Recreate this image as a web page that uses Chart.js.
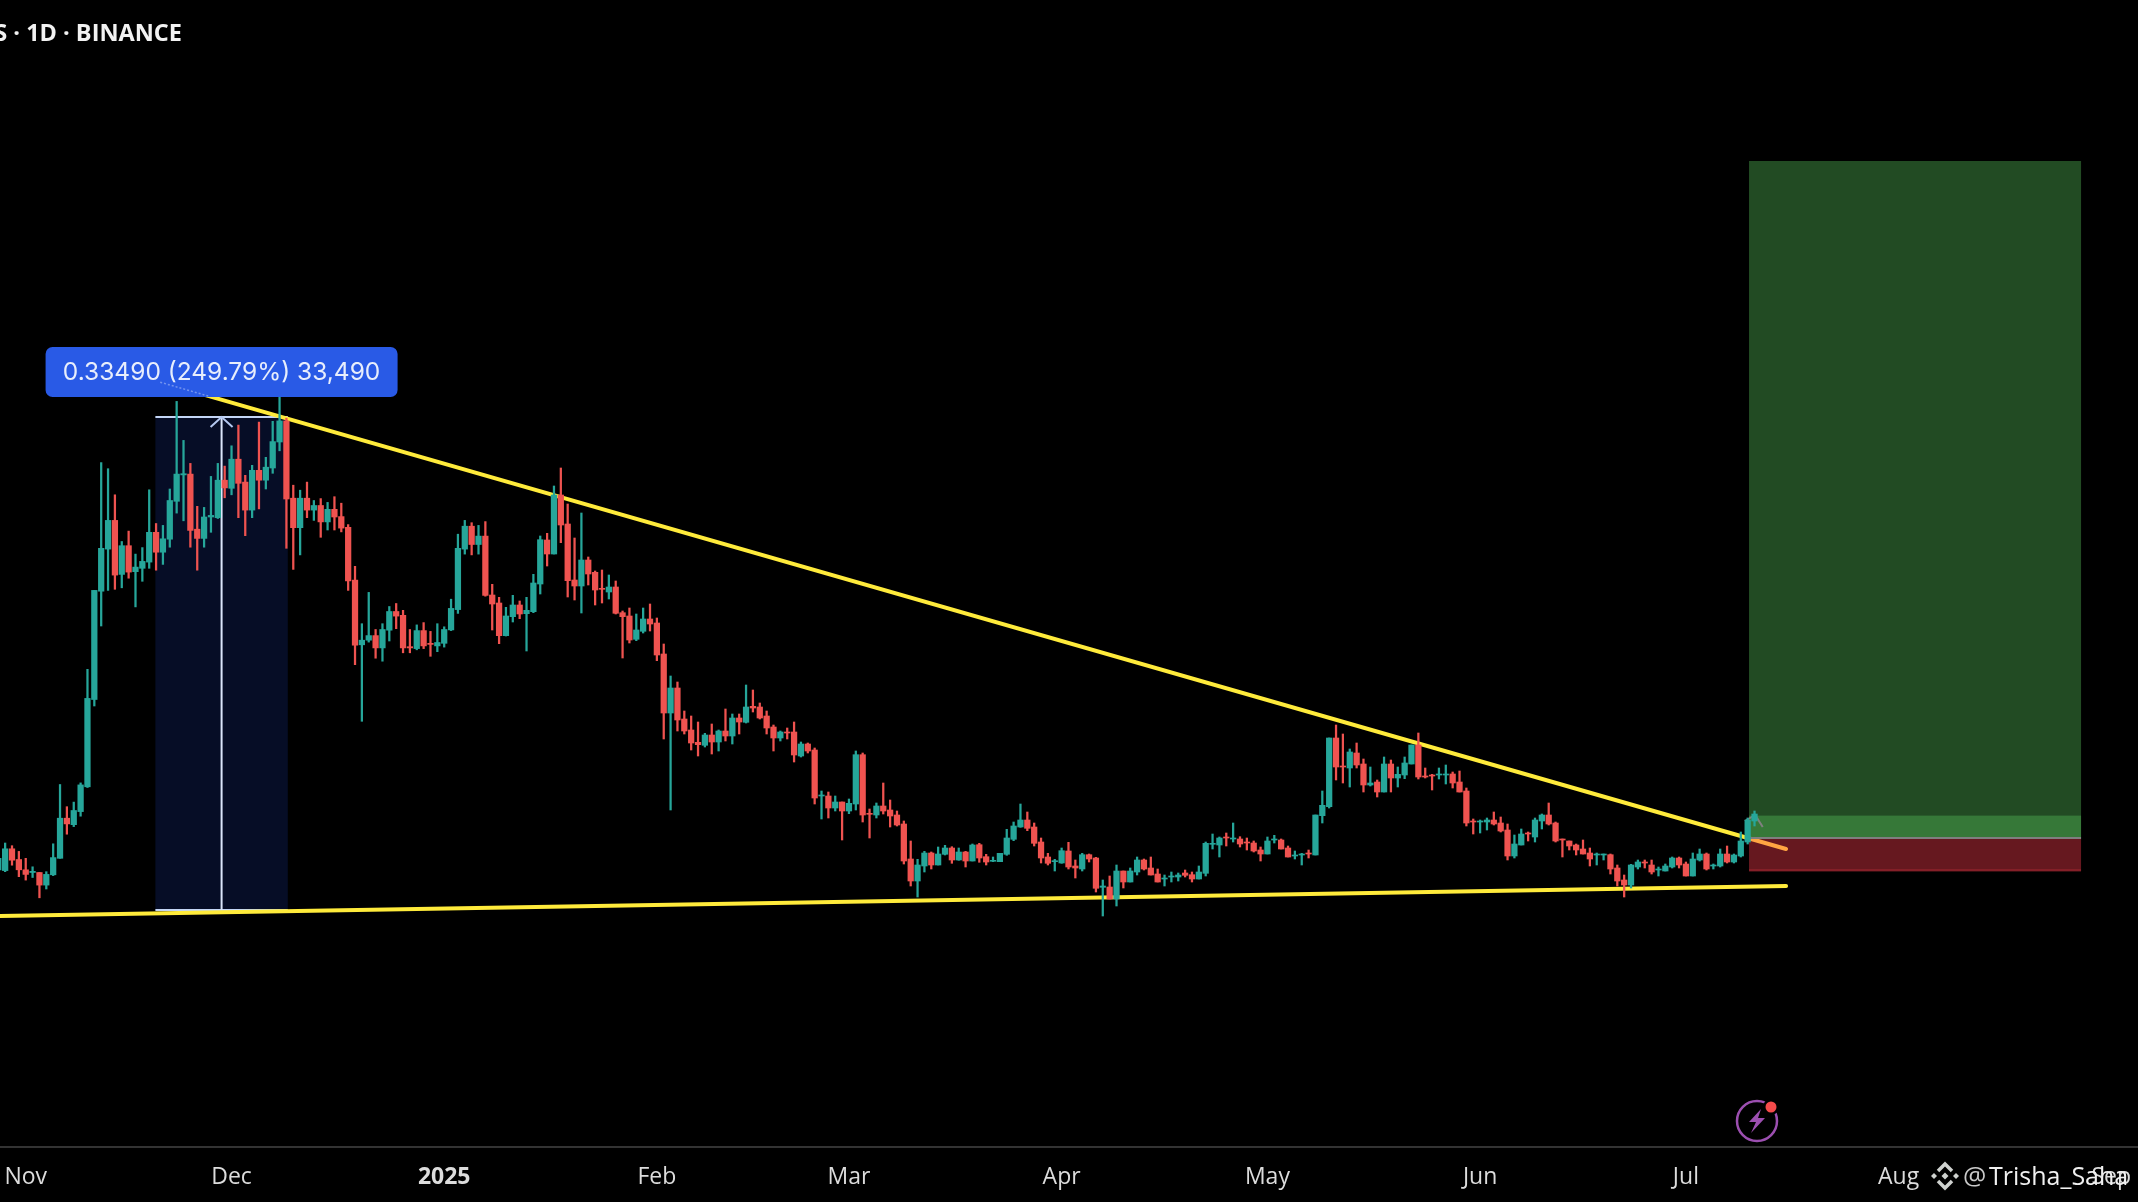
<!DOCTYPE html>
<html>
<head>
<meta charset="utf-8">
<title>1D BINANCE</title>
<script src="https://cdn.jsdelivr.net/npm/chart.js@4"></script>
<style>
  html, body { margin: 0; padding: 0; background: #000; overflow: hidden; }
  canvas { display: block; }
</style>
</head>
<body>
<canvas id="chart" width="2138" height="1202"></canvas>
<script>
// Daily candles. The source shows no price axis, so values are
// "levels": 0 is the low of the measure tool, 493 its high (0.33490 in price).
const opens = [
  40.2,39.4,61.2,50.5,40.2,37.5,37.5,24.9,35.2,51.7,
  91.8,85.3,98.4,123.2,210.5,318.8,360.9,389.6,335.6,364.3,
  338.3,341.7,347.9,377.7,357.8,370.8,408.7,435.1,435.9,380.8,
  371.6,393,392.3,429.8,421.7,450.8,427.9,399.9,439.7,429.8,
  442,468,489.1,411.8,382.3,411.8,399.9,404.5,388.1,400.7,
  393.4,382.7,329.9,265.2,269.8,274.4,262.1,279.8,298.5,294.7,
  263.3,261.4,279.4,266.7,264.1,266.7,280.1,300.4,360.9,383.8,
  365.5,373.9,315,307,274.3,293.3,305,296.3,298.3,326,
  370,356,415,386,330,324,350,337.7,321.7,318,
  323,297.3,294,270.7,278.7,291,287,256,197,222,
  191,180,167.7,164.7,175,168,179,174,192,187.7,
  203.7,203,194,183,172,178,178,154,166,160,
  114,114,102,108,99,106,155.3,96.7,95,104,
  100,95,86,51,29,44,57,45,55.7,62,
  50,58,49,65.3,53.3,48.7,48.3,55.7,70.7,83,
  90,83,68,53,48.3,47,59,44,41,55.3,
  52,22.7,23,11,39,28,38,50,42,36,
  31,33,33,37,35.3,31,36.7,65.7,65,73,
  71,71,68,67,60,56,70,70,62,54,
  55,57,55,94.3,103.3,172,144,142,157,146,
  125,128,118,146,132,135,146,165,134,135,
  135,135,136,128,119,89,88,88,90,87,
  80,54,65,77,73,89,95,87,71,69,
  65,61,57,55,55,55.3,42,30,25,43,
  48,45,40,39,43,52,46,34,50,56,
  44,44,56,48,54,68,89,
];
const highs = [
  55,67,64.3,58.6,51.7,43.2,37.5,38.3,66.2,125.5,
  103.3,107.9,127.1,240.7,319.6,447.4,441.3,415.2,368.5,378.9,
  355.9,362.4,420.2,386.5,384.6,421,508.6,469.6,446.6,403.7,
  402.6,433.6,446.6,443.9,464.2,484.9,434.7,444.7,487.9,452.7,
  488.7,515.5,491.8,424.8,419.8,427.9,409.5,411.4,407.6,413.3,
  406.8,385.4,343.7,286.3,317.6,280.5,286.3,303.5,306.5,299.7,
  280.5,285.1,287.4,278.6,286.3,283.2,310.8,375.8,389.6,387.3,
  384.6,388.4,325.7,312.7,302.7,314.7,309,312.7,335.7,374,
  376.7,424,442,406,372,397,353,339,340,335,
  329,299,302,296,302,306,292,266,234,228,
  199,194,188,176.7,186,180,201,196,196,225,
  220,207,199,185,179,182,188,168,167,162,
  119,118,114,108,111,159,157,101,107,127,
  110,99,89,69,50.7,58.7,58,63,64.7,63.3,
  62,58.7,66,66.7,55.7,53,56.7,80.7,88,106,
  98,87,72,56.7,50.7,62,67.7,50,56.7,56,
  52.7,30,34,45,39,42,53,51,53,41,
  35,38,37,40,38,44,68,76,73,77,
  87,73.3,72,69,63,73,74.7,71,64,59,
  56.7,60,95,119,172,185,176,161,167,151,
  143,130,153,150,143,153,165,177,142,135.7,
  142,145,138,139,122,91,90,92,98,93,
  86,75,81,78,92,96,107,88,71,69,
  66,70,62,57,56,56,45,35,45.7,50,
  50,50,43,46,53,53,48,57,61,57,
  46,61,64,56,78,92,99,
];
const lows = [
  14,38.3,44.8,33.3,29.9,32.5,12.2,21,34.4,51.7,
  75.8,83.4,93.8,122.5,204,284,319.6,320.7,322.2,331.8,
  303.1,328.7,341.7,339.8,345.6,362.8,396.9,389.2,362.8,339.8,
  362.8,377.7,391.5,412.2,415.2,392.3,374.3,392.3,401.1,421,
  436.7,459.2,361.7,340.6,355.1,392.3,389.6,372.7,380,380,
  378.1,319.6,245.3,188.7,267.9,251.8,248.8,269,281.3,257.2,
  257.2,260.2,261.4,253.7,258.3,262.9,279.4,296.6,355.9,355.1,
  355.9,313.8,280,266.3,274,288,291.3,259,297.3,316,
  344,356,367.3,313,310,297,325,305,307,311,
  296,252,267,269.3,277,279,249.3,171,100,179,
  176,160,154,163,156,159,169,166,176,187,
  198,191,176,159,169,171,148,153,157,106,
  91,92,99,70,96.3,100,88,72,92,96,
  83,84,46,24,13,38,41,45,55,46.7,
  49.7,43,49,47.7,45,48.3,48.3,54.7,69.3,82.7,
  79.3,64,47,45,39,46.7,41,32,39,48,
  18,-6,11,4,22,28,35,40,35,28,
  24,28,29,33,28,31,34,61,53,64,
  68,63,60,58,49,56,67,61,53,51,
  45,52,55,87,102,130,127,123,142,118,
  124,113,118,118,123,131.3,146,131,132,120,
  131,126,122,118,84,76,77,80,85,78,
  50,52,65,69,68,81,85,68,53,60,
  55,56,44,45,50,36,24,13,22,41,
  42,36,34,39,42,42,34,34,49,40,
  41,43,47,47,53,66,84,
];
const closes = [
  51.7,61.2,49.8,40.2,35.6,38.7,24.9,35.6,52.4,91.8,
  86.1,99.5,125.1,211.6,319.6,361.7,389.6,334.9,364.3,337.9,
  342.9,348.6,377.7,357.8,371.2,409.5,435.9,436.3,379.6,371.6,
  393,394.6,429.8,422.1,450.8,426.7,399.9,439.7,429.8,442.8,
  468.4,489.1,411,382.3,411.8,399.9,404.5,388.1,400.7,393,
  381.9,329.1,264.8,269.8,274.4,262.1,280.5,298.5,293.9,262.1,
  262.1,279.4,264.1,265.6,267.5,280.5,301.6,361.7,383.8,365.5,
  373.9,314.6,306,274.3,294,305,296,299.7,327,370.3,
  356,415,385,329.3,324,350,336,320,320.7,323,
  296.7,293.3,270,280,291,286,255,197,222,190,
  179,167,165.3,175,168,179,174,192,188,203,
  202,192,182,172,178,177,155,166,159,112,
  115,102,108,99,106.7,155.3,95,95.7,104,99,
  94,85,49,29,45,57,45,56,62,50,
  58,49,65,52,48,49.7,56.7,72,84,90,
  81.7,66.7,52,46.7,49.3,59.3,43,42,55.3,51,
  21.7,24,11,39,28,39,50,41,35,28,
  32,34,35,34.7,31,38,66.7,66.7,72,72,
  72,66,67,59,56,69,71,61,53,55,
  56,56,95,104.7,172,143,143,158,145,125,
  127,118,146,132,135.7,147,165,133,133,134,
  136,136,127,118,87,88,89,90,86,79,
  54,66,76,76,90,95,86,69,70,64,
  60,56,51,56,56,41,29,25,45,48,
  47,38,41,44,52,45,34,51,56,41,
  45,56,48,55,69,90,96,
];

const firstDay = -4;            // day offset of candle 0; day 0 is 1 Nov
const monthDays = [0, 30, 61, 92, 120, 151, 181, 212, 242, 273, 304];
const monthLabels = ['Nov', 'Dec', '2025', 'Feb', 'Mar', 'Apr', 'May', 'Jun', 'Jul', 'Aug', 'Sep'];

// Drawn tools: [day, level] pairs.
const resistance = [[19.6, 527.8], [256.6, 61]];
const support = [[-3.75, -6], [256.6, 24]];
const entryArrow = [[250.6, 89], [252.1, 95], [253.2, 83]];
const measureDays = [18.9, 38.2];
const measureLevels = [0, 493];
const positionDays = [251.2, 299.6];
const targetLevel = 749;
const breakevenBandTop = 94.4;
const entryLevel = 72;
const stopLevel = 39.5;
const measureLabel = '0.33490 (249.79%) 33,490';
const headerText = 'S \u00b7 1D \u00b7 BINANCE';
const watermarkAt = '@';
const watermarkName = 'Trisha_Saha';

const UP = '#26a69a';
const DOWN = '#ef5350';
const YELLOW = '#ffeb3b';
const TEXT = '#dcdcdc';
const FONT = '"Open Sans", "Noto Sans", sans-serif';

const candleColors = opens.map((o, i) => (closes[i] >= o ? UP : DOWN));
const toPoints = (pairs) => pairs.map(([x, y]) => ({ x, y }));

function rect(ctx, x0, x1, y0, y1, color) {
  ctx.fillStyle = color;
  ctx.fillRect(x0, y0, x1 - x0, y1 - y0);
}

function stroke(ctx, pts, color, width) {
  ctx.strokeStyle = color;
  ctx.lineWidth = width;
  ctx.beginPath();
  pts.forEach(([x, y], i) => (i ? ctx.lineTo(x, y) : ctx.moveTo(x, y)));
  ctx.stroke();
}

// Measure tool, below everything else.
function drawMeasure(chart) {
  const { ctx, scales: { x, y } } = chart;
  const x0 = x.getPixelForValue(measureDays[0]);
  const x1 = x.getPixelForValue(measureDays[1]);
  const top = y.getPixelForValue(measureLevels[1]);
  const bottom = y.getPixelForValue(measureLevels[0]);
  const mid = (x0 + x1) / 2;
  rect(ctx, x0, x1, top, bottom, '#060d26');
  stroke(ctx, [[x0, top], [x1, top]], '#c3d5f5', 2);
  stroke(ctx, [[x0, bottom], [x1, bottom]], '#c3d5f5', 2);
  stroke(ctx, [[mid, top], [mid, bottom]], '#dbe6fb', 2);
  stroke(ctx, [[mid - 11, top + 10], [mid, top], [mid + 11, top + 10]], '#b4c8f0', 2);
}

// Long position: translucent so the end of the trend line reads orange over the red zone.
function drawPosition(chart) {
  const { ctx, scales: { x, y } } = chart;
  const x0 = x.getPixelForValue(positionDays[0]);
  const x1 = x.getPixelForValue(positionDays[1]);
  const green = 'rgba(85,187,88,0.4)';
  const red = 'rgba(255,60,78,0.4)';
  rect(ctx, x0, x1, y.getPixelForValue(targetLevel), y.getPixelForValue(entryLevel), green);
  rect(ctx, x0, x1, y.getPixelForValue(breakevenBandTop), y.getPixelForValue(entryLevel), green);
  rect(ctx, x0, x1, y.getPixelForValue(entryLevel), y.getPixelForValue(stopLevel), red);
  stroke(ctx, [[x0, y.getPixelForValue(stopLevel)], [x1, y.getPixelForValue(stopLevel)]], red, 2);
  stroke(ctx, [[x0, y.getPixelForValue(entryLevel)], [x1, y.getPixelForValue(entryLevel)]], '#7f7f7f', 2);
}

function drawLabel(chart) {
  const { ctx, scales: { x, y } } = chart;
  const cx = x.getPixelForValue((measureDays[0] + measureDays[1]) / 2);
  const top = y.getPixelForValue(measureLevels[1]);
  ctx.fillStyle = '#295ae6';
  ctx.beginPath();
  ctx.roundRect(cx - 176, top - 70, 352, 50, 7);
  ctx.fill();
  // faint trace of the trend line through the label
  const a = resistance[0];
  ctx.save();
  ctx.setLineDash([2, 2]);
  stroke(ctx, [[x.getPixelForValue(a[0]), y.getPixelForValue(a[1])],
    [x.getPixelForValue(a[0]) + 50, y.getPixelForValue(a[1]) + 14.4]], 'rgba(255,255,255,0.35)', 1.5);
  ctx.restore();
  ctx.fillStyle = '#e8eefc';
  ctx.font = `24.5px Inter, ${FONT}`;
  ctx.textAlign = 'center';
  ctx.textBaseline = 'middle';
  ctx.fillText(measureLabel, cx, top - 44);
}

function drawBinanceMark(ctx, cx, cy) {
  ctx.fillStyle = '#cfd2cf';
  const diamond = (dx, dy, r) => {
    ctx.beginPath();
    ctx.moveTo(cx + dx, cy + dy - r);
    ctx.lineTo(cx + dx + r, cy + dy);
    ctx.lineTo(cx + dx, cy + dy + r);
    ctx.lineTo(cx + dx - r, cy + dy);
    ctx.closePath();
    ctx.fill();
  };
  diamond(0, 0, 3.5);
  diamond(-11, 0, 3);
  diamond(11, 0, 3);
  ctx.strokeStyle = '#cfd2cf';
  ctx.lineWidth = 3.5;
  ctx.beginPath();
  ctx.moveTo(cx - 7, cy - 5); ctx.lineTo(cx, cy - 12); ctx.lineTo(cx + 7, cy - 5);
  ctx.moveTo(cx - 7, cy + 5); ctx.lineTo(cx, cy + 12); ctx.lineTo(cx + 7, cy + 5);
  ctx.stroke();
}

function drawBolt(ctx, cx, cy) {
  ctx.strokeStyle = '#9c4fb0';
  ctx.lineWidth = 2.5;
  ctx.beginPath();
  ctx.arc(cx, cy, 20, 0, Math.PI * 2);
  ctx.stroke();
  ctx.fillStyle = '#9c4fb0';
  ctx.beginPath();
  ctx.moveTo(cx + 4, cy - 12);
  ctx.lineTo(cx - 8, cy + 1);
  ctx.lineTo(cx - 1, cy + 1);
  ctx.lineTo(cx - 6, cy + 12);
  ctx.lineTo(cx + 8, cy - 3);
  ctx.lineTo(cx + 1, cy - 3);
  ctx.closePath();
  ctx.fill();
  ctx.fillStyle = '#000';
  ctx.beginPath();
  ctx.arc(cx + 14, cy - 14, 8, 0, Math.PI * 2);
  ctx.fill();
  ctx.fillStyle = '#f44b4b';
  ctx.beginPath();
  ctx.arc(cx + 14, cy - 14, 5.5, 0, Math.PI * 2);
  ctx.fill();
}

const overlays = {
  id: 'overlays',
  beforeDatasetsDraw: drawMeasure,
  beforeDatasetDraw(chart, args) {
    if (args.index === 2) drawPosition(chart);   // over the trend lines, under the candles
  },
  afterDatasetsDraw: drawLabel,
  afterDraw(chart) {
    const { ctx } = chart;
    ctx.save();
    ctx.textBaseline = 'alphabetic';
    ctx.textAlign = 'right';
    ctx.fillStyle = '#f2f2f2';
    ctx.font = `bold 23.5px ${FONT}`;
    ctx.fillText(headerText, 182, 41);
    drawBolt(ctx, 1757, 1121);
    drawBinanceMark(ctx, 1945, 1176);
    ctx.textAlign = 'left';
    ctx.font = `26px ${FONT}`;
    ctx.fillStyle = '#c9c9c9';
    ctx.fillText(watermarkAt, 1963, 1185);
    ctx.fillStyle = '#f0f0f0';
    ctx.font = `25px ${FONT}`;
    ctx.fillText(watermarkName, 1989, 1185);
    ctx.restore();
  },
};

new Chart(document.getElementById('chart'), {
  type: 'bar',
  data: {
    datasets: [
      { type: 'line', data: toPoints(support), borderColor: YELLOW, borderWidth: 4,
        borderCapStyle: 'round', pointRadius: 0, order: 5 },
      { type: 'line', data: toPoints(resistance), borderColor: YELLOW, borderWidth: 4,
        borderCapStyle: 'round', pointRadius: 0, order: 5 },
      { type: 'line', data: toPoints(entryArrow), borderColor: '#808080', borderWidth: 2,
        pointRadius: 0, order: 3 },
      { data: lows.map((l, i) => ({ x: firstDay + i, y: [l, highs[i]] })),
        backgroundColor: candleColors, barThickness: 1.6, grouped: false, order: 2 },
      { data: opens.map((o, i) => ({ x: firstDay + i, y: [o, closes[i]] })),
        backgroundColor: candleColors, barThickness: 5.6, grouped: false, order: 1 },
    ],
  },
  options: {
    responsive: false,
    animation: false,
    events: [],
    layout: { padding: 0 },
    plugins: { legend: { display: false }, title: { display: false }, tooltip: { enabled: false } },
    scales: {
      x: {
        type: 'linear',
        offset: false,     // bar charts default to true, which would pad the day range
        min: -3.75,
        max: 307.9,
        grid: { display: false },
        border: { display: true, color: '#333333', width: 2 },
        afterBuildTicks: (axis) => { axis.ticks = monthDays.map((value) => ({ value })); },
        afterFit: (axis) => { axis.height = 55; axis.paddingLeft = 0; axis.paddingRight = 0; },
        ticks: {
          autoSkip: false,
          maxRotation: 0,
          padding: 9,
          color: TEXT,
          font: (c) => ({ family: FONT, size: 23, weight: c.tick && c.tick.label === '2025' ? 'bold' : 'normal' }),
          callback: (v, i) => monthLabels[i],
        },
      },
      y: { display: false, min: -237, max: 910 },
    },
  },
  plugins: [overlays],
});
</script>
</body>
</html>
